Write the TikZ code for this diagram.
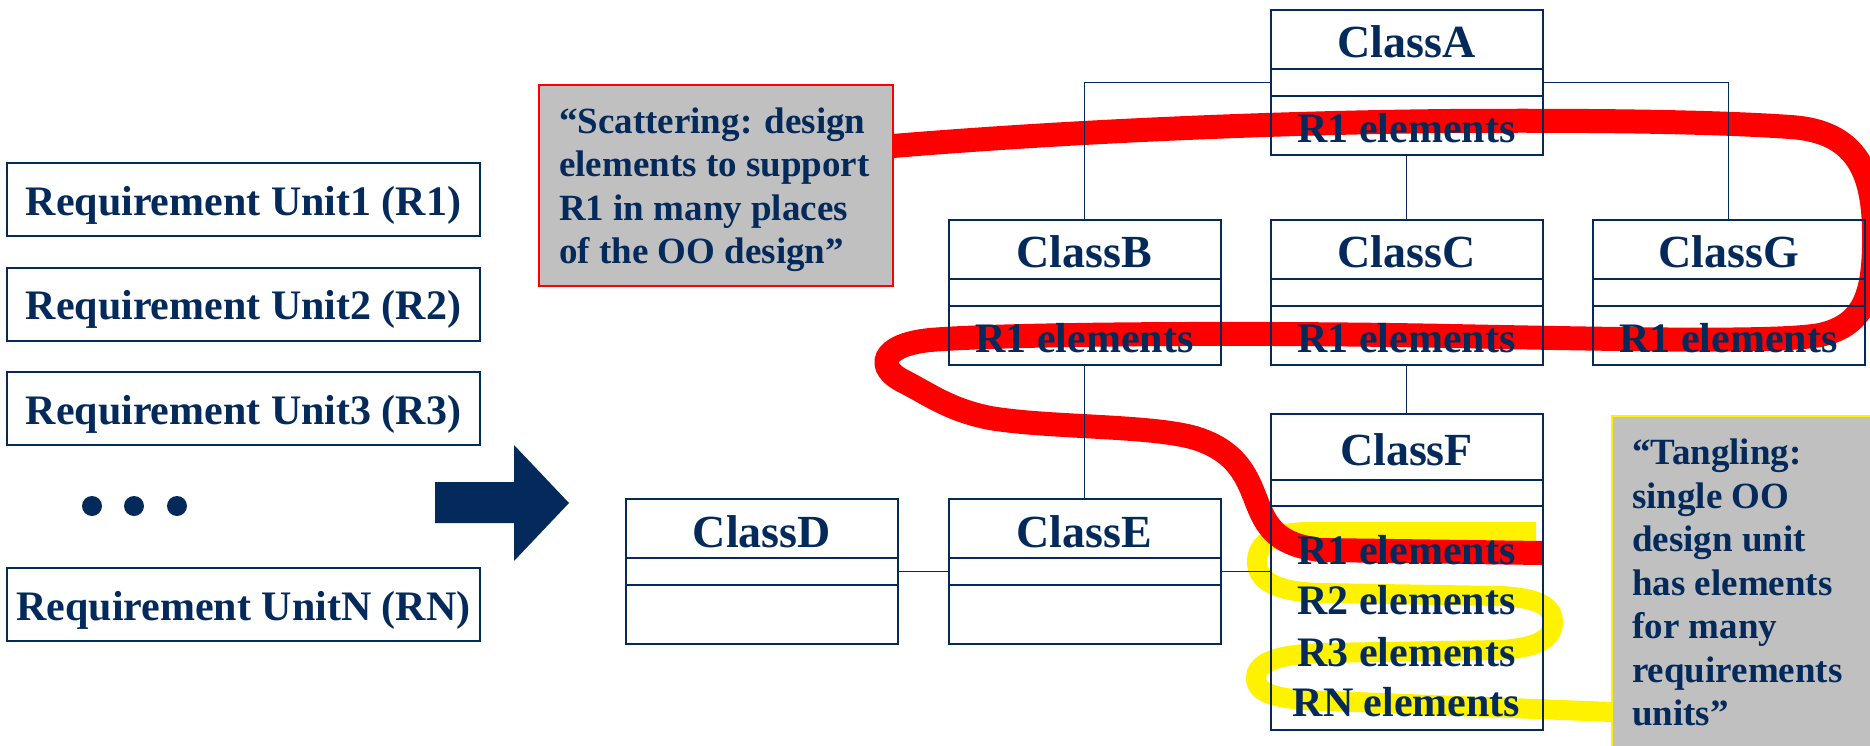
\documentclass[tikz,border=0pt]{standalone}
\usepackage{fontspec}
\setmainfont{Liberation Serif}
\definecolor{navy}{HTML}{042A5C}
\definecolor{notegray}{HTML}{C0C0C0}
\begin{document}
\begin{tikzpicture}[x=1pt,y=-1pt,
  cls/.style={draw=navy, line width=2pt, minimum width=272pt, minimum height=145pt, inner sep=0pt},
  ttl/.style={font=\fontsize{46}{50}\selectfont\bfseries, text=navy, anchor=base, inner sep=0pt},
  itm/.style={font=\fontsize{42}{46}\selectfont\bfseries, text=navy, anchor=base, inner sep=0pt},
  reqbox/.style={draw=navy, line width=2pt, minimum width=473pt, minimum height=73pt, inner sep=0pt,
    font=\fontsize{42}{46}\selectfont\bfseries, text=navy, text height=31pt, text depth=0pt},
  conn/.style={draw=navy, line width=1.6pt},
  sep/.style={draw=navy, line width=2pt},
  redline/.style={draw=red, line width=24pt},
  yelline/.style={draw=yellow, line width=20pt},
  notetxt/.style={font=\fontsize{37}{43.5}\selectfont\bfseries, text=navy, align=left, anchor=north west, inner sep=0pt}
]
\useasboundingbox (0,0) rectangle (1870,746);
\clip (0,0) rectangle (1870,746);
\fill[white] (0,0) rectangle (1870,746);

% requirement units
\node[reqbox] (r1) at (243.5,199.5) {Requirement Unit1 (R1)};
\node[reqbox] (r2) at (243.5,304) {Requirement Unit2 (R2)};
\node[reqbox] (r3) at (243.5,408.5) {Requirement Unit3 (R3)};
\node[reqbox] (rn) at (243.5,604.5) {Requirement UnitN (RN)};
\fill[navy] (92,506) circle[radius=10pt];
\fill[navy] (134,506) circle[radius=10pt];
\fill[navy] (177,506) circle[radius=10pt];

% big arrow
\fill[navy] (435,482) -- (514,482) -- (514,445) -- (569,503) -- (514,561) -- (514,523) -- (435,523) -- cycle;

% tangling curve (yellow)
\draw[yelline] (1536,532) -- (1310,532)
  .. controls (1270,532) and (1257,545) .. (1257,562)
  .. controls (1257,580) and (1275,592) .. (1320,593)
  -- (1500,596)
  .. controls (1545,598) and (1553,610) .. (1553,622)
  .. controls (1553,640) and (1535,648) .. (1500,650)
  -- (1320,653)
  .. controls (1270,655) and (1256,665) .. (1256,678)
  .. controls (1256,695) and (1280,700) .. (1330,701)
  -- (1612,712);

% scattering curve (red)
\draw[redline] (893,146)
  .. controls (1050,133) and (1250,123) .. (1450,121)
  .. controls (1600,120) and (1720,122) .. (1790,127)
  .. controls (1855,131) and (1873,170) .. (1874,230)
  .. controls (1875,292) and (1866,325) .. (1820,335)
  .. controls (1780,342) and (1650,340) .. (1450,336)
  .. controls (1250,332) and (1000,334) .. (930,340)
  .. controls (880,345) and (875,368) .. (905,382)
  .. controls (930,395) and (950,410) .. (990,418)
  .. controls (1050,428) and (1150,425) .. (1195,438)
  .. controls (1240,452) and (1248,480) .. (1258,505)
  .. controls (1268,530) and (1280,545) .. (1320,550)
  -- (1542,553);

% notes
\node[draw=red, fill=notegray, line width=1.5pt, minimum width=354pt, minimum height=201pt, inner sep=0pt] (scat) at (716,185.5) {};
\node[notetxt] (scatt) at (559,107.5) {“Scattering: design\\elements to support\\R1 in many places\\of the OO design”};
\node[draw=yellow, fill=notegray, line width=2pt, minimum width=268pt, minimum height=344pt, inner sep=0pt] (tang) at (1746,588) {};
\node[notetxt] (tangt) at (1632,439) {“Tangling:\\single OO\\design unit\\has elements\\for many\\requirements\\units”};

% classes
\node[cls] (A) at (1406.5,82.5) {};
\node[cls] (B) at (1084.5,292) {};
\node[cls] (C) at (1406.5,292) {};
\node[cls] (G) at (1728.5,292) {};
\node[cls] (D) at (762,571.5) {};
\node[cls] (E) at (1084.5,571.5) {};
\node[cls, minimum height=316pt] (F) at (1406.5,572) {};

\foreach \c in {A,B,C,G,D,E}{
  \draw[sep] ([yshift=-60pt]\c.north west) -- ([yshift=-60pt]\c.north east);
  \draw[sep] ([yshift=-87pt]\c.north west) -- ([yshift=-87pt]\c.north east);
}
\draw[sep] ([yshift=-67pt]F.north west) -- ([yshift=-67pt]F.north east);
\draw[sep] ([yshift=-93pt]F.north west) -- ([yshift=-93pt]F.north east);

% connectors
\draw[conn] (A.west) -| (B.north);
\draw[conn] (A.east) -| (G.north);
\draw[conn] (A.south) -- (C.north);
\draw[conn] (C.south) -- (F.north);
\draw[conn] (B.south) -- (E.north);
\draw[conn] (D.east) -- (E.west);
\draw[conn] (E.east) -- (E.east -| F.west);

% class texts
\node[ttl] (At) at (1406.5,58) {ClassA};
\node[itm] (Ai) at (1406.5,143) {R1 elements};
\node[ttl] (Bt) at (1084.5,267) {ClassB};
\node[itm] (Bi) at (1084.5,352) {R1 elements};
\node[ttl] (Ct) at (1406.5,267) {ClassC};
\node[itm] (Ci) at (1406.5,352) {R1 elements};
\node[ttl] (Gt) at (1728.5,267) {ClassG};
\node[itm] (Gi) at (1728.5,352) {R1 elements};
\node[ttl] (Dt) at (762,547) {ClassD};
\node[ttl] (Et) at (1084.5,547) {ClassE};
\node[ttl] (Ft) at (1406.5,465) {ClassF};
\node[itm] (F1) at (1406.5,564) {R1 elements};
\node[itm] (F2) at (1406.5,614) {R2 elements};
\node[itm] (F3) at (1406.5,666) {R3 elements};
\node[itm] (Fn) at (1406.5,716) {RN elements};
\end{tikzpicture}
\end{document}
